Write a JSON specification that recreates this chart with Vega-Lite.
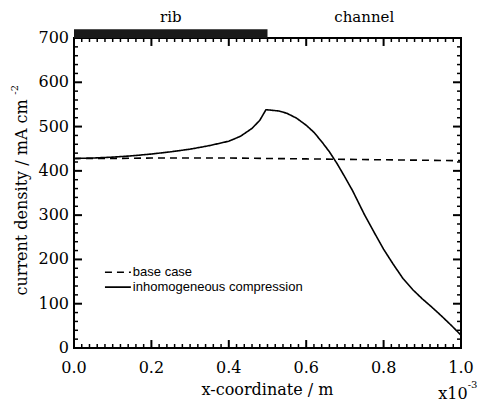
{
  "$schema": "https://vega.github.io/schema/vega-lite/v6.json",
  "autosize": "none",
  "width": 387,
  "height": 310,
  "padding": {"left": 74, "top": 38, "right": 17, "bottom": 55},
  "background": "white",
  "config": {
    "view": {"stroke": "#000", "strokeWidth": 2}
  },
  "datasets": {
    "curves": [
      {"x": 0.0, "j": 428, "series": "inhomogeneous compression"},
      {"x": 0.05, "j": 429, "series": "inhomogeneous compression"},
      {"x": 0.1, "j": 431, "series": "inhomogeneous compression"},
      {"x": 0.15, "j": 434, "series": "inhomogeneous compression"},
      {"x": 0.2, "j": 438, "series": "inhomogeneous compression"},
      {"x": 0.25, "j": 443, "series": "inhomogeneous compression"},
      {"x": 0.3, "j": 449, "series": "inhomogeneous compression"},
      {"x": 0.35, "j": 457, "series": "inhomogeneous compression"},
      {"x": 0.4, "j": 467, "series": "inhomogeneous compression"},
      {"x": 0.43, "j": 478, "series": "inhomogeneous compression"},
      {"x": 0.46, "j": 496, "series": "inhomogeneous compression"},
      {"x": 0.48, "j": 514, "series": "inhomogeneous compression"},
      {"x": 0.496, "j": 538, "series": "inhomogeneous compression"},
      {"x": 0.51, "j": 537, "series": "inhomogeneous compression"},
      {"x": 0.53, "j": 535, "series": "inhomogeneous compression"},
      {"x": 0.55, "j": 530, "series": "inhomogeneous compression"},
      {"x": 0.575, "j": 519, "series": "inhomogeneous compression"},
      {"x": 0.6, "j": 503, "series": "inhomogeneous compression"},
      {"x": 0.62, "j": 487, "series": "inhomogeneous compression"},
      {"x": 0.64, "j": 466, "series": "inhomogeneous compression"},
      {"x": 0.66, "j": 443, "series": "inhomogeneous compression"},
      {"x": 0.68, "j": 416, "series": "inhomogeneous compression"},
      {"x": 0.7, "j": 386, "series": "inhomogeneous compression"},
      {"x": 0.72, "j": 355, "series": "inhomogeneous compression"},
      {"x": 0.75, "j": 302, "series": "inhomogeneous compression"},
      {"x": 0.775, "j": 262, "series": "inhomogeneous compression"},
      {"x": 0.8, "j": 223, "series": "inhomogeneous compression"},
      {"x": 0.825, "j": 189, "series": "inhomogeneous compression"},
      {"x": 0.85, "j": 157, "series": "inhomogeneous compression"},
      {"x": 0.875, "j": 132, "series": "inhomogeneous compression"},
      {"x": 0.9, "j": 111, "series": "inhomogeneous compression"},
      {"x": 0.925, "j": 92, "series": "inhomogeneous compression"},
      {"x": 0.95, "j": 72, "series": "inhomogeneous compression"},
      {"x": 0.975, "j": 51, "series": "inhomogeneous compression"},
      {"x": 1.0, "j": 29, "series": "inhomogeneous compression"},
      {"x": 0.0, "j": 428, "series": "base case"},
      {"x": 0.1, "j": 428, "series": "base case"},
      {"x": 0.2, "j": 429, "series": "base case"},
      {"x": 0.3, "j": 429, "series": "base case"},
      {"x": 0.4, "j": 429, "series": "base case"},
      {"x": 0.5, "j": 428, "series": "base case"},
      {"x": 0.6, "j": 427, "series": "base case"},
      {"x": 0.7, "j": 426, "series": "base case"},
      {"x": 0.8, "j": 425, "series": "base case"},
      {"x": 0.9, "j": 424, "series": "base case"},
      {"x": 1.0, "j": 423, "series": "base case"}
    ],
    "legend": [
      {"x": 0.08, "x2": 0.147, "tx": 0.152, "y": 171, "series": "base case"},
      {"x": 0.08, "x2": 0.147, "tx": 0.152, "y": 137.5, "series": "inhomogeneous compression"}
    ],
    "regions": [{"x": 0.0, "x2": 0.5, "y": 700, "y2": 720}],
    "regionLabels": [
      {"x": 0.25, "y": 747, "label": "rib"},
      {"x": 0.75, "y": 747, "label": "channel"}
    ],
    "titles": [
      {"x": 0.5, "y": -95, "label": "x-coordinate / m"},
      {"x": 0.979, "y": -104, "label": "x10"}
    ],
    "yTitle": [{"x": -0.134, "y": 340, "label": "current density / mA cm"}],
    "yTitleExp": [{"x": -0.152, "y": 583, "label": "-2"}],
    "multExp": [{"x": 1.03, "y": -84, "label": "-3"}],
    "xMajor": [{"v": 0}, {"v": 0.2}, {"v": 0.4}, {"v": 0.6}, {"v": 0.8}, {"v": 1.0}],
    "xMinor": [{"v":0.02},{"v":0.04},{"v":0.06},{"v":0.08},{"v":0.1},{"v":0.12},{"v":0.14},{"v":0.16},{"v":0.18},{"v":0.22},{"v":0.24},{"v":0.26},{"v":0.28},{"v":0.3},{"v":0.32},{"v":0.34},{"v":0.36},{"v":0.38},{"v":0.42},{"v":0.44},{"v":0.46},{"v":0.48},{"v":0.5},{"v":0.52},{"v":0.54},{"v":0.56},{"v":0.58},{"v":0.62},{"v":0.64},{"v":0.66},{"v":0.68},{"v":0.7},{"v":0.72},{"v":0.74},{"v":0.76},{"v":0.78},{"v":0.82},{"v":0.84},{"v":0.86},{"v":0.88},{"v":0.9},{"v":0.92},{"v":0.94},{"v":0.96},{"v":0.98}],
    "yMajor": [{"v": 0}, {"v": 100}, {"v": 200}, {"v": 300}, {"v": 400}, {"v": 500}, {"v": 600}, {"v": 700}],
    "yMinor": [{"v":20},{"v":40},{"v":60},{"v":80},{"v":120},{"v":140},{"v":160},{"v":180},{"v":220},{"v":240},{"v":260},{"v":280},{"v":320},{"v":340},{"v":360},{"v":380},{"v":420},{"v":440},{"v":460},{"v":480},{"v":520},{"v":540},{"v":560},{"v":580},{"v":620},{"v":640},{"v":660},{"v":680}],
    "frame": [{"x": 0, "x2": 1, "y": 0, "y2": 700}]
  },
  "layer": [
    {
      "data": {"name": "frame"},
      "mark": {"type": "rect", "filled": false, "stroke": "#000", "strokeWidth": 2},
      "encoding": {
        "x": {"field": "x", "type": "quantitative", "scale": {"domain": [0, 1], "nice": false, "zero": false}, "axis": null},
        "x2": {"field": "x2"},
        "y": {"field": "y", "type": "quantitative", "scale": {"domain": [0, 700], "nice": false}, "axis": null},
        "y2": {"field": "y2"}
      }
    },
    {
      "data": {"name": "xMajor"},
      "mark": {"type": "rule", "color": "#000", "strokeWidth": 2},
      "encoding": {"x": {"field": "v", "type": "quantitative", "axis": null}, "y": {"datum": 0, "type": "quantitative", "axis": null}, "y2": {"datum": 18}}
    },
    {
      "data": {"name": "xMajor"},
      "mark": {"type": "rule", "color": "#000", "strokeWidth": 2},
      "encoding": {"x": {"field": "v", "type": "quantitative", "axis": null}, "y": {"datum": 700, "type": "quantitative", "axis": null}, "y2": {"datum": 682}}
    },
    {
      "data": {"name": "xMinor"},
      "mark": {"type": "rule", "color": "#000", "strokeWidth": 1.5},
      "encoding": {"x": {"field": "v", "type": "quantitative", "axis": null}, "y": {"datum": 0, "type": "quantitative", "axis": null}, "y2": {"datum": 9}}
    },
    {
      "data": {"name": "xMinor"},
      "mark": {"type": "rule", "color": "#000", "strokeWidth": 1.5},
      "encoding": {"x": {"field": "v", "type": "quantitative", "axis": null}, "y": {"datum": 700, "type": "quantitative", "axis": null}, "y2": {"datum": 691}}
    },
    {
      "data": {"name": "yMajor"},
      "mark": {"type": "rule", "color": "#000", "strokeWidth": 2},
      "encoding": {"y": {"field": "v", "type": "quantitative", "axis": null}, "x": {"datum": 0, "type": "quantitative", "axis": null}, "x2": {"datum": 0.0207}}
    },
    {
      "data": {"name": "yMajor"},
      "mark": {"type": "rule", "color": "#000", "strokeWidth": 2},
      "encoding": {"y": {"field": "v", "type": "quantitative", "axis": null}, "x": {"datum": 1, "type": "quantitative", "axis": null}, "x2": {"datum": 0.9793}}
    },
    {
      "data": {"name": "yMinor"},
      "mark": {"type": "rule", "color": "#000", "strokeWidth": 1.5},
      "encoding": {"y": {"field": "v", "type": "quantitative", "axis": null}, "x": {"datum": 0, "type": "quantitative", "axis": null}, "x2": {"datum": 0.0103}}
    },
    {
      "data": {"name": "yMinor"},
      "mark": {"type": "rule", "color": "#000", "strokeWidth": 1.5},
      "encoding": {"y": {"field": "v", "type": "quantitative", "axis": null}, "x": {"datum": 1, "type": "quantitative", "axis": null}, "x2": {"datum": 0.9897}}
    },
    {
      "data": {"name": "curves"},
      "mark": {"type": "line", "color": "#000", "strokeWidth": 1.6},
      "encoding": {
        "x": {"field": "x", "type": "quantitative", "axis": null},
        "y": {"field": "j", "type": "quantitative", "axis": null},
        "strokeDash": {"field": "series", "type": "nominal", "scale": {"domain": ["base case", "inhomogeneous compression"], "range": [[7, 5], [1, 0]]}, "legend": null}
      }
    },
    {
      "data": {"name": "legend"},
      "mark": {"type": "rule", "color": "#000", "strokeWidth": 1.6},
      "encoding": {
        "x": {"field": "x", "type": "quantitative", "axis": null},
        "x2": {"field": "x2"},
        "y": {"field": "y", "type": "quantitative", "axis": null},
        "strokeDash": {"field": "series", "type": "nominal", "legend": null}
      }
    },
    {
      "data": {"name": "legend"},
      "mark": {"type": "text", "align": "left", "baseline": "middle", "font": "Liberation Sans", "fontSize": 13, "color": "#000"},
      "encoding": {
        "x": {"field": "tx", "type": "quantitative", "axis": null},
        "y": {"field": "y", "type": "quantitative", "axis": null},
        "text": {"field": "series"}
      }
    },
    {
      "data": {"name": "regions"},
      "mark": {"type": "rect", "color": "#1a1a1a"},
      "encoding": {
        "x": {"field": "x", "type": "quantitative", "axis": null},
        "x2": {"field": "x2"},
        "y": {"field": "y", "type": "quantitative", "axis": null},
        "y2": {"field": "y2"}
      }
    },
    {
      "data": {"name": "regionLabels"},
      "mark": {"type": "text", "align": "center", "baseline": "middle", "font": "DejaVu Serif", "fontSize": 15, "color": "#000"},
      "encoding": {
        "x": {"field": "x", "type": "quantitative", "axis": null},
        "y": {"field": "y", "type": "quantitative", "axis": null},
        "text": {"field": "label"}
      }
    },
    {
      "data": {"name": "titles"},
      "mark": {"type": "text", "align": "center", "baseline": "middle", "font": "DejaVu Serif", "fontSize": 16, "color": "#000"},
      "encoding": {
        "x": {"field": "x", "type": "quantitative", "axis": null},
        "y": {"field": "y", "type": "quantitative", "axis": null},
        "text": {"field": "label"}
      }
    },
    {
      "data": {"name": "yTitle"},
      "mark": {"type": "text", "align": "center", "baseline": "middle", "angle": 270, "font": "DejaVu Serif", "fontSize": 16, "color": "#000"},
      "encoding": {
        "x": {"field": "x", "type": "quantitative", "axis": null},
        "y": {"field": "y", "type": "quantitative", "axis": null},
        "text": {"field": "label"}
      }
    },
    {
      "data": {"name": "yTitleExp"},
      "mark": {"type": "text", "align": "center", "baseline": "middle", "angle": 270, "font": "DejaVu Serif", "fontSize": 10, "color": "#000"},
      "encoding": {
        "x": {"field": "x", "type": "quantitative", "axis": null},
        "y": {"field": "y", "type": "quantitative", "axis": null},
        "text": {"field": "label"}
      }
    },
    {
      "data": {"name": "multExp"},
      "mark": {"type": "text", "align": "center", "baseline": "middle", "font": "DejaVu Serif", "fontSize": 10, "color": "#000"},
      "encoding": {
        "x": {"field": "x", "type": "quantitative", "axis": null},
        "y": {"field": "y", "type": "quantitative", "axis": null},
        "text": {"field": "label"}
      }
    },
    {
      "data": {"name": "xMajor"},
      "mark": {"type": "text", "align": "center", "baseline": "middle", "dy": 20, "font": "DejaVu Serif", "fontSize": 16, "color": "#000"},
      "encoding": {
        "x": {"field": "v", "type": "quantitative", "axis": null},
        "y": {"datum": 0, "type": "quantitative", "axis": null},
        "text": {"field": "v", "type": "quantitative", "format": ".1f"}
      }
    },
    {
      "data": {"name": "yMajor"},
      "mark": {"type": "text", "align": "right", "baseline": "middle", "dx": -5, "font": "DejaVu Serif", "fontSize": 16, "color": "#000"},
      "encoding": {
        "y": {"field": "v", "type": "quantitative", "axis": null},
        "x": {"datum": 0, "type": "quantitative", "axis": null},
        "text": {"field": "v", "type": "quantitative", "format": "d"}
      }
    }
  ]
}
